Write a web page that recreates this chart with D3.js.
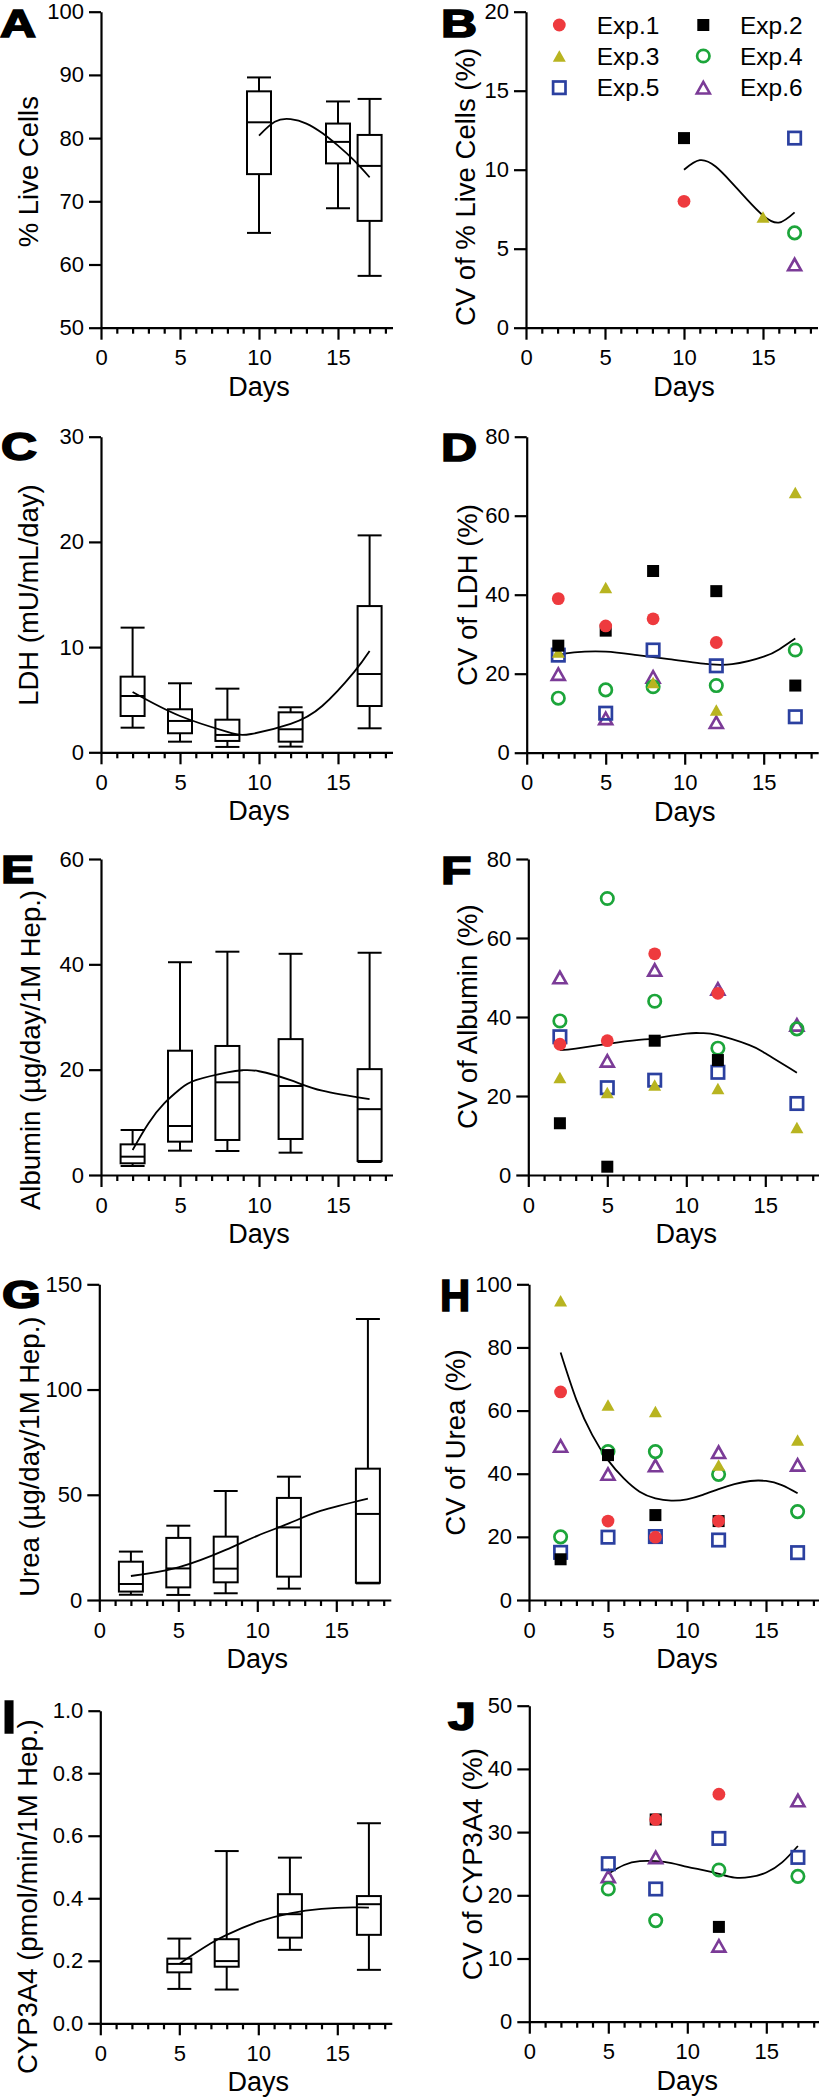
<!DOCTYPE html>
<html><head><meta charset="utf-8">
<script src="https://cdn.jsdelivr.net/npm/d3@7"></script>
<style>body{margin:0;background:#fff}svg{display:block}text{font-family:Arial,"Liberation Sans",Helvetica,sans-serif}</style>
</head><body><svg id="c" width="819" height="2099"></svg>
<script>
// ---------------- DATA ----------------
const expNames = ["Exp.1","Exp.2","Exp.3","Exp.4","Exp.5","Exp.6"];
const xTickLabels = [0,5,10,15];
const xMinorTicks = [1,2,3,4,6,7,8,9,11,12,13,14,16,17,18];

// A: % live cells (box: min, q1, median, q3, max)
const liveDays = [10,15,17];
const liveBoxes = [[65.0,74.3,82.5,87.4,89.6],[68.9,76.0,79.4,82.3,85.8],[58.2,66.9,75.6,80.5,86.2]];
const liveFitDays = [10,11,12,13,14,15,16,17];
const liveFitVals = [80.4,82.6,83.0,82.3,80.8,78.8,76.5,73.8];
const liveTicks = [50,60,70,80,90,100];

// B: CV of % live cells (rows = days, columns = Exp.1..Exp.6)
const liveCVDays = [10,15,17];
const liveCV = [[8,12,null,null,null,null],[null,null,7,null,null,null],[null,null,null,6,12,4]];
const liveCVFitDays = [10,11,12,13,14,15,16,17];
const liveCVFitVals = [10.0,10.6,10.2,9.2,8.1,7.1,6.65,7.3];
const liveCVTicks = [0,5,10,15,20];

// C: LDH
const ldhDays = [2,5,8,12,17];
const ldhBoxes = [[2.34,3.45,5.35,7.19,11.85],[1.01,1.81,2.98,4.09,6.56],[0.51,1.08,1.65,3.10,6.05],[0.54,1.01,2.19,3.80,4.28],[2.28,4.4,7.44,13.9,20.62]];
const ldhFitDays = [2,5,8,9.5,12,14,16,17];
const ldhFitVals = [5.73,3.45,1.95,1.74,2.7,4.4,7.6,9.63];
const ldhTicks = [0,10,20,30];

// D: CV of LDH
const ldhCVDays = [2,5,8,12,17];
const ldhCV = [[39,27.1,25.5,13.8,24.7,19.9],[32.1,30.9,41.8,15.9,10.0,8.7],[33.9,46,17.8,16.7,26,19.2],[27.9,40.9,10.8,17.0,22,7.7],[null,17,65.9,26,9.1,null]];
const ldhCVFitDays = [2,3,5,7,9,11,13,15,16,17];
const ldhCVFitVals = [24.7,25.4,25.6,24.7,23.7,22.6,22.4,24.3,26.2,28.9];
const ldhCVTicks = [0,20,40,60,80];

// E: Albumin
const albDays = [2,5,8,12,17];
const albBoxes = [[1.71,2.22,3.48,5.82,8.54],[4.62,6.33,9.3,23.6,40.4],[4.56,6.65,17.6,24.5,42.4],[4.24,6.84,16.9,25.8,42.0],[2.47,2.66,12.5,20.1,42.2]];
const albFitDays = [2,3,4,5,6,8,9,10,12,14,17];
const albFitVals = [4.75,9.8,13.6,16.3,18.0,19.5,19.9,19.7,18.0,16.0,14.4];
const albTicks = [0,20,40,60];

// F: CV of Albumin
const albCVDays = [2,5,8,12,17];
const albCV = [[33.1,13.1,24.7,39,35,50],[34,2.1,20.9,70,22.1,28.9],[56,34,22.8,44,24,51.9],[46,29.1,21.9,32.1,26,47.1],[null,null,12,37,18.1,38]];
const albCVFitDays = [2,3,5,7,8,10,11,12,14,15,17];
const albCVFitVals = [31.6,32.0,33.2,34.2,34.6,35.8,35.9,35.4,32.9,30.8,25.9];
const albCVTicks = [0,20,40,60,80];

// G: Urea
const ureaDays = [2,5,8,12,17];
const ureaBoxes = [[2.5,4.0,7.6,18.2,23],[2.4,6.0,15.0,29.5,35.3],[3.2,8.4,14.9,30.1,51.8],[5.4,11.1,34.5,48.5,58.6],[7.9,8.2,40.9,62.4,133.5]];
const ureaFitDays = [2,5,8,10,12,14,17];
const ureaFitVals = [11.4,15.5,23.8,30.5,36.4,42.3,48.2];
const ureaTicks = [0,50,100,150];

// H: CV of Urea
const ureaCVDays = [2,5,8,12,17];
const ureaCV = [[65.9,12.9,94.8,20,15.1,48.8],[25,45.9,61.8,47,19.9,39.9],[19.9,26.9,59.7,47,20.1,42.6],[25,25,42.8,39.8,19,46.8],[null,null,50.7,28,15,42.8]];
const ureaCVFitDays = [2,3,4,5,6,7,8,9,10,11,12,13,14,15,16,17];
const ureaCVFitVals = [78.4,63.4,52.3,44.3,38.5,34.3,32.2,31.5,31.9,33.3,35.1,36.7,37.7,37.7,36.4,33.8];
const ureaCVTicks = [0,20,40,60,80,100];

// I: CYP3A4
const cypDays = [5,8,12,17];
const cypBoxes = [[0.11,0.163,0.19,0.207,0.271],[0.108,0.181,0.199,0.269,0.551],[0.235,0.274,0.349,0.413,0.53],[0.171,0.283,0.381,0.407,0.64]];
const cypFitDays = [5,6,7,8,10,12,14,16,17];
const cypFitVals = [0.19,0.224,0.256,0.283,0.325,0.352,0.366,0.371,0.37];
const cypTicks = [0,0.2,0.4,0.6,0.8,1.0];

// J: CV of CYP3A4
const cypCVDays = [5,8,12,17];
const cypCV = [[null,null,null,21,25,23],[32,32,null,16,21,26],[36,15,null,24,29,12],[null,null,null,23,26,35]];
const cypCVFitDays = [5,6,7,8,9,10,11,12,13,14,15,16,17];
const cypCVFitVals = [23.4,24.8,25.4,25.4,25.1,24.5,24.0,23.4,22.8,22.9,23.6,25.2,27.8];
const cypCVTicks = [0,10,20,30,40,50];

// ---------------- STYLE / LAYOUT ----------------
const expColors = ["#ee3a3e","#000000","#b8b420","#1ca53a","#2b40a0","#7b3b97"];
const svg = d3.select("#c");
const PXDAY = 15.8, XMAX = 18.45;

function panel(cfg){
  const x = d3.scaleLinear().domain([0,XMAX]).range([cfg.ax, cfg.ax + XMAX*PXDAY]);
  const y = d3.scaleLinear().domain(d3.extent(cfg.ticks)).range([cfg.bot, cfg.top]);
  const g = svg.append("g");
  const ya = g.append("g").attr("transform",`translate(${cfg.ax},0)`)
    .call(d3.axisLeft(y).tickValues(cfg.ticks).tickSize(12).tickPadding(5).tickSizeOuter(0)
      .tickFormat(cfg.fmt || d3.format("d")));
  const xa = g.append("g").attr("transform",`translate(0,${cfg.bot})`)
    .call(d3.axisBottom(x).tickValues(xTickLabels).tickSize(12).tickPadding(10).tickSizeOuter(0).tickFormat(d3.format("d")));
  const xm = g.append("g").attr("transform",`translate(0,${cfg.bot})`)
    .call(d3.axisBottom(x).tickValues(xMinorTicks).tickSize(6).tickFormat(""));
  xm.select(".domain").remove();
  [ya,xa,xm].forEach(a=>{
    a.selectAll("path,line").attr("stroke","#000").attr("stroke-width",2.2);
    a.selectAll("text").attr("fill","#000").style("font-size","22px")
      .style("font-family",'Arial,"Liberation Sans",Helvetica,sans-serif');
  });
  // titles
  g.append("text").attr("x",x(10)).attr("y",cfg.bot+68).attr("text-anchor","middle")
    .style("font-size","27px").text("Days");
  g.append("text").attr("transform",`translate(${cfg.tx},${cfg.ty}) rotate(-90)`)
    .attr("text-anchor","middle").style("font-size","27.5px").text(cfg.title);
  g.append("text").attr("transform",`translate(${cfg.lx},${cfg.ly}) scale(${cfg.sx||1.28},1)`)
    .style("font-size",(cfg.ls||39)+"px")
    .style("font-weight","bold").attr("stroke","#000").attr("stroke-width",1.6).text(cfg.letter);
  return {g,x,y};
}

function boxes(p, days, bx){
  const bw = 24;
  const gg = p.g.append("g").attr("fill","none").attr("stroke","#000").attr("stroke-width",2);
  days.forEach((d,i)=>{
    const [mn,q1,md,q3,mx] = bx[i], cx = p.x(d);
    gg.append("line").attr("x1",cx).attr("x2",cx).attr("y1",p.y(mx)).attr("y2",p.y(q3));
    gg.append("line").attr("x1",cx).attr("x2",cx).attr("y1",p.y(q1)).attr("y2",p.y(mn));
    gg.append("line").attr("x1",cx-bw/2).attr("x2",cx+bw/2).attr("y1",p.y(mx)).attr("y2",p.y(mx));
    gg.append("line").attr("x1",cx-bw/2).attr("x2",cx+bw/2).attr("y1",p.y(mn)).attr("y2",p.y(mn));
    gg.append("rect").attr("x",cx-bw/2).attr("width",bw).attr("y",p.y(q3)).attr("height",p.y(q1)-p.y(q3)).attr("fill","#fff");
    gg.append("line").attr("x1",cx-bw/2).attr("x2",cx+bw/2).attr("y1",p.y(md)).attr("y2",p.y(md));
  });
}

function fit(p, days, vals){
  const line = d3.line().x(d=>p.x(d[0])).y(d=>p.y(d[1])).curve(d3.curveNatural);
  p.g.append("path").datum(days.map((d,i)=>[d,vals[i]])).attr("d",line)
    .attr("fill","none").attr("stroke","#000").attr("stroke-width",1.8);
}

function marker(sel, k, cx, cy){
  const c = expColors[k];
  const tri = (w,h)=>`M${cx},${cy-h/2}L${cx+w/2},${cy+h/2}L${cx-w/2},${cy+h/2}Z`;
  if(k===0) sel.append("circle").attr("cx",cx).attr("cy",cy).attr("r",6.4).attr("fill",c);
  else if(k===1) sel.append("rect").attr("x",cx-6).attr("y",cy-6).attr("width",12).attr("height",12).attr("fill",c);
  else if(k===2) sel.append("path").attr("d",tri(13,11.5)).attr("fill",c);
  else if(k===3) sel.append("circle").attr("cx",cx).attr("cy",cy).attr("r",6.2).attr("fill","none").attr("stroke",c).attr("stroke-width",2.7);
  else if(k===4) sel.append("rect").attr("x",cx-6.2).attr("y",cy-6.2).attr("width",12.4).attr("height",12.4).attr("fill","none").attr("stroke",c).attr("stroke-width",2.7);
  else sel.append("path").attr("d",tri(13,11.5)).attr("fill","none").attr("stroke",c).attr("stroke-width",2.6).attr("stroke-linejoin","miter");
}

function scatter(p, days, rows){
  const gg = p.g.append("g");
  for(let k=5;k>=0;k--){
    days.forEach((d,i)=>{
      const v = rows[i][k];
      if(v!==null && v!==undefined) marker(gg,k,p.x(d),p.y(v));
    });
  }
}

// ---------------- PANELS ----------------
const fmt1 = d3.format(".1f");
const pA = panel({ax:101, top:11.7, bot:327.7, ticks:liveTicks, title:"% Live Cells", tx:37.5, ty:171.7, letter:"A", lx:0, ly:36.7});
boxes(pA, liveDays, liveBoxes); fit(pA, liveFitDays, liveFitVals);

const pB = panel({ax:526, top:11.7, bot:327.7, ticks:liveCVTicks, title:"CV of % Live Cells (%)", tx:475, ty:187, letter:"B", lx:441, ly:36.7});
fit(pB, liveCVFitDays, liveCVFitVals); scatter(pB, liveCVDays, liveCV);
// legend
const legRows = [25,56,87.7], legMX = [559.3,703.3], legTX = [596.7,740];
expNames.forEach((n,k)=>{
  const r = Math.floor(k/2), c = k%2;
  marker(pB.g, k, legMX[c], legRows[r]);
  pB.g.append("text").attr("x",legTX[c]).attr("y",legRows[r]+8.6).style("font-size","24.5px").text(n);
});

const pC = panel({ax:101, top:436.7, bot:752.3, ticks:ldhTicks, title:"LDH (mU/mL/day)", tx:38.3, ty:595, letter:"C", lx:1, ly:460});
boxes(pC, ldhDays, ldhBoxes); fit(pC, ldhFitDays, ldhFitVals);

const pD = panel({ax:526.7, top:436.7, bot:752.7, ticks:ldhCVTicks, title:"CV of LDH (%)", tx:476.7, ty:595, letter:"D", lx:441, ly:460.5});
fit(pD, ldhCVFitDays, ldhCVFitVals); scatter(pD, ldhCVDays, ldhCV);

const pE = panel({ax:101, top:859, bot:1175, ticks:albTicks, title:"Albumin (µg/day/1M Hep.)", tx:40, ty:1050, letter:"E", lx:1, ly:883});
boxes(pE, albDays, albBoxes); fit(pE, albFitDays, albFitVals);

const pF = panel({ax:528.3, top:859, bot:1175, ticks:albCVTicks, title:"CV of Albumin (%)", tx:476.7, ty:1016.7, letter:"F", lx:441, ly:884});
fit(pF, albCVFitDays, albCVFitVals); scatter(pF, albCVDays, albCV);

const pG = panel({ax:99.3, top:1284.3, bot:1600, ticks:ureaTicks, title:"Urea (µg/day/1M Hep.)", tx:39.3, ty:1456.7, letter:"G", lx:2, ly:1308.3});
boxes(pG, ureaDays, ureaBoxes); fit(pG, ureaFitDays, ureaFitVals);

const pH = panel({ax:529, top:1284.3, bot:1600, ticks:ureaCVTicks, title:"CV of Urea (%)", tx:465, ty:1442.5, letter:"H", lx:440, ly:1310.5, ls:45, sx:0.93});
fit(pH, ureaCVFitDays, ureaCVFitVals); scatter(pH, ureaCVDays, ureaCV);

const pI = panel({ax:100.3, top:1710.7, bot:2023.3, ticks:cypTicks, fmt:fmt1, title:"CYP3A4  (pmol/min/1M Hep.)", tx:37.3, ty:1896.7, letter:"I", lx:2, ly:1733.3, ls:46, sx:1.1});
boxes(pI, cypDays, cypBoxes); fit(pI, cypFitDays, cypFitVals);

const pJ = panel({ax:529.3, top:1705.7, bot:2021.7, ticks:cypCVTicks, title:"CV of CYP3A4 (%)", tx:481.7, ty:1864.2, letter:"J", lx:448, ly:1730});
fit(pJ, cypCVFitDays, cypCVFitVals); scatter(pJ, cypCVDays, cypCV);
</script></body></html>
